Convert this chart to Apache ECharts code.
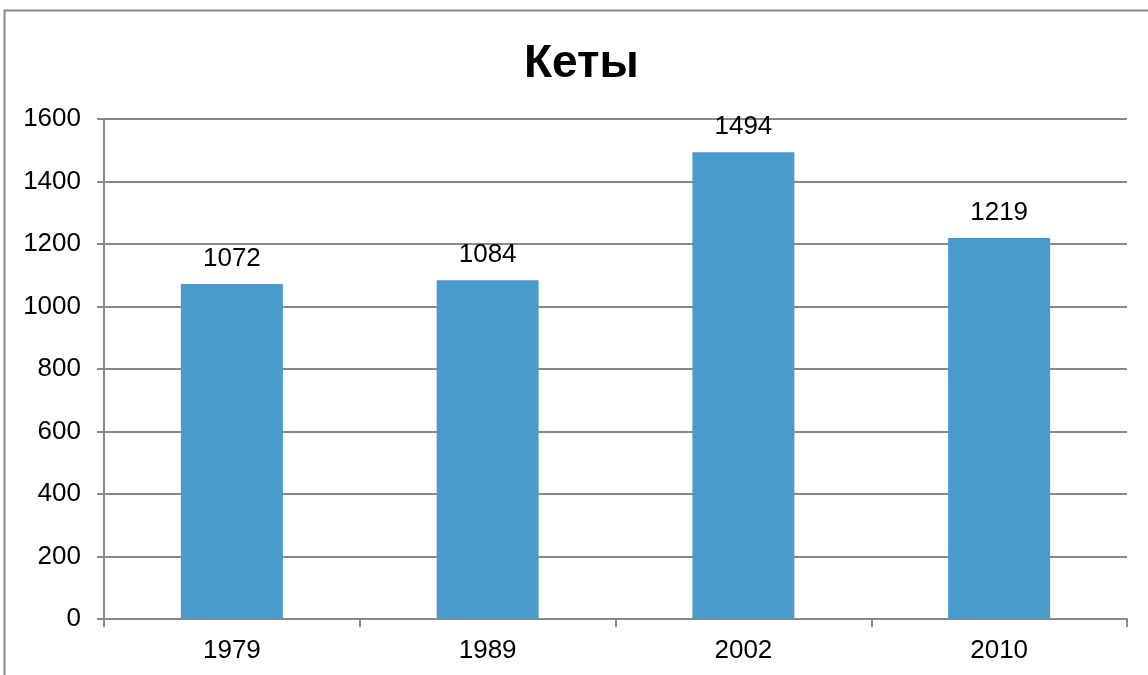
<!DOCTYPE html>
<html>
<head>
<meta charset="utf-8">
<script src="https://cdn.jsdelivr.net/npm/echarts@6/dist/echarts.min.js"></script>
<style>
  html, body { margin: 0; padding: 0; background: #fff; }
  #chart { width: 1148px; height: 675px; }
</style>
</head>
<body>
<div id="chart"></div>
<script>
const years = ['1979', '1989', '2002', '2010'];
const counts = [1072, 1084, 1494, 1219];

const chart = echarts.init(document.getElementById('chart'));
const gray = '#888888';
const font = 'Liberation Sans, Arial, sans-serif';

chart.setOption({
  animation: false,
  backgroundColor: '#fff',
  graphic: [
    {
      type: 'rect',
      shape: { x: 4.5, y: 10.5, width: 1200, height: 700 },
      style: { fill: 'none', stroke: gray, lineWidth: 2 },
      silent: true
    }
  ],
  title: {
    text: 'Кеты',
    left: 519,
    top: 36,
    textStyle: { color: '#000', fontSize: 46, fontWeight: 'bold', fontFamily: font }
  },
  grid: { left: 104, right: 21, top: 119, bottom: 56 },
  xAxis: {
    type: 'category',
    data: years,
    axisLine: { lineStyle: { color: gray, width: 2 } },
    axisTick: { show: true, length: 8, lineStyle: { color: gray, width: 2 } },
    axisLabel: { color: '#000', fontSize: 26, fontFamily: font, margin: 19 }
  },
  yAxis: {
    type: 'value',
    min: 0,
    max: 1600,
    interval: 200,
    axisLine: { show: true, lineStyle: { color: gray, width: 2 } },
    axisTick: { show: true, length: 7, lineStyle: { color: gray, width: 2 } },
    splitLine: { lineStyle: { color: gray, width: 2 } },
    axisLabel: { color: '#000', fontSize: 26, fontFamily: font, margin: 23, formatter: v => String(v) }
  },
  series: [
    {
      type: 'bar',
      data: counts,
      barWidth: 102,
      itemStyle: { color: '#4A9BCB' },
      label: {
        show: true,
        position: 'top',
        distance: 12,
        color: '#000',
        fontSize: 26,
        fontFamily: font
      }
    }
  ]
});
</script>
</body>
</html>
